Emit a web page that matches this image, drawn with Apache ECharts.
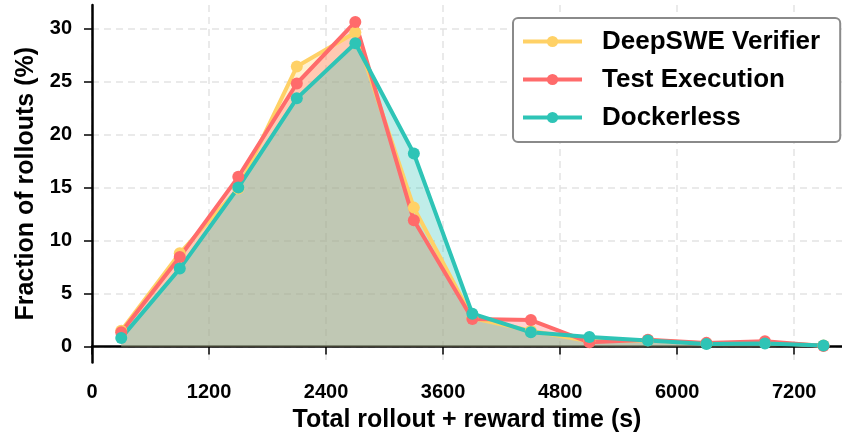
<!DOCTYPE html>
<html>
<head>
<meta charset="utf-8">
<script src="https://cdn.jsdelivr.net/npm/echarts@6/dist/echarts.min.js"></script>
<style>
  html, body { margin: 0; padding: 0; background: #fff; }
  #chart { width: 842px; height: 438px; }
</style>
</head>
<body>
<div id="chart"></div>
<script>
// time bins (s)
const times = [300, 900, 1500, 2100, 2700, 3300, 3900, 4500, 5100, 5700, 6300, 6900, 7500]
// fraction of rollouts (%)
const deepsweVerifier = [1.5, 8.8, 14.9, 26.4, 29.6, 13.1, 2.7, 1.5, 0.5, 0.6, 0.3, 0.35, 0.1]
const testExecution = [1.35, 8.45, 16.0, 24.8, 30.6, 11.9, 2.6, 2.5, 0.4, 0.65, 0.35, 0.5, 0.05]
const dockerless = [0.82, 7.35, 15.0, 23.4, 28.6, 18.2, 3.1, 1.35, 0.9, 0.57, 0.25, 0.3, 0.1]

const xTicks = [0, 1200, 2400, 3600, 4800, 6000, 7200]
const yTicks = [0, 5, 10, 15, 20, 25, 30]

const font = 'Liberation Sans, Arial, sans-serif'
const chart = echarts.init(document.getElementById('chart'))

function makeSeries (name, values, color) {
  return {
    name: name,
    type: 'line',
    data: times.map((t, i) => [t, values[i]]),
    symbol: 'circle',
    symbolSize: 12,
    itemStyle: { color: color },
    lineStyle: { color: color, width: 4 },
    areaStyle: { color: color, opacity: 0.3 },
    emphasis: { disabled: true }
  }
}

const gridLine = { show: true, lineStyle: { color: '#e4e4e4', width: 1.5, type: [7, 5] } }
const titleStyle = { fontFamily: font, fontWeight: 'bold', fontSize: 25, color: '#000' }
const tickLabel = { fontFamily: font, fontWeight: 'bold', fontSize: 20, color: '#000', margin: 20 }

chart.setOption({
  animation: false,
  grid: { left: 92, right: 0, top: 5, bottom: 75.5 },
  legend: {
    orient: 'vertical',
    left: 513,
    top: 18,
    padding: [10, 20, 11, 8],
    itemWidth: 59,
    itemHeight: 14,
    itemGap: 11,
    lineStyle: { width: 4 },
    backgroundColor: '#fff',
    borderColor: '#8a8a8a',
    borderWidth: 2,
    borderRadius: 5,
    textStyle: {
      fontFamily: font,
      fontWeight: 'bold',
      fontSize: 26,
      lineHeight: 27,
      color: '#000',
      padding: [0, 0, 0, 15]
    }
  },
  xAxis: {
    type: 'value',
    min: 0,
    max: 7690,
    name: 'Total rollout + reward time (s)',
    nameLocation: 'middle',
    nameGap: 41,
    nameTextStyle: titleStyle,
    axisLine: { show: true, lineStyle: { color: '#000', width: 2.5 } },
    axisTick: { show: true, length: 8, lineStyle: { color: '#000', width: 1.5 }, customValues: xTicks },
    axisLabel: Object.assign({ customValues: xTicks, formatter: v => String(v) }, tickLabel),
    splitLine: gridLine
  },
  yAxis: {
    type: 'value',
    min: -1.5,
    max: 32.2,
    name: 'Fraction of rollouts (%)',
    nameLocation: 'middle',
    nameGap: 52,
    nameTextStyle: titleStyle,
    axisLine: { show: true, lineStyle: { color: '#000', width: 2.5 } },
    axisTick: { show: true, length: 8, lineStyle: { color: '#000', width: 1.5 }, customValues: yTicks },
    axisLabel: Object.assign({ customValues: yTicks }, tickLabel),
    splitLine: gridLine
  },
  series: [
    makeSeries('DeepSWE Verifier', deepsweVerifier, '#FFD166'),
    makeSeries('Test Execution', testExecution, '#FF6B6B'),
    makeSeries('Dockerless', dockerless, '#2EC4B6')
  ]
})
</script>
</body>
</html>
